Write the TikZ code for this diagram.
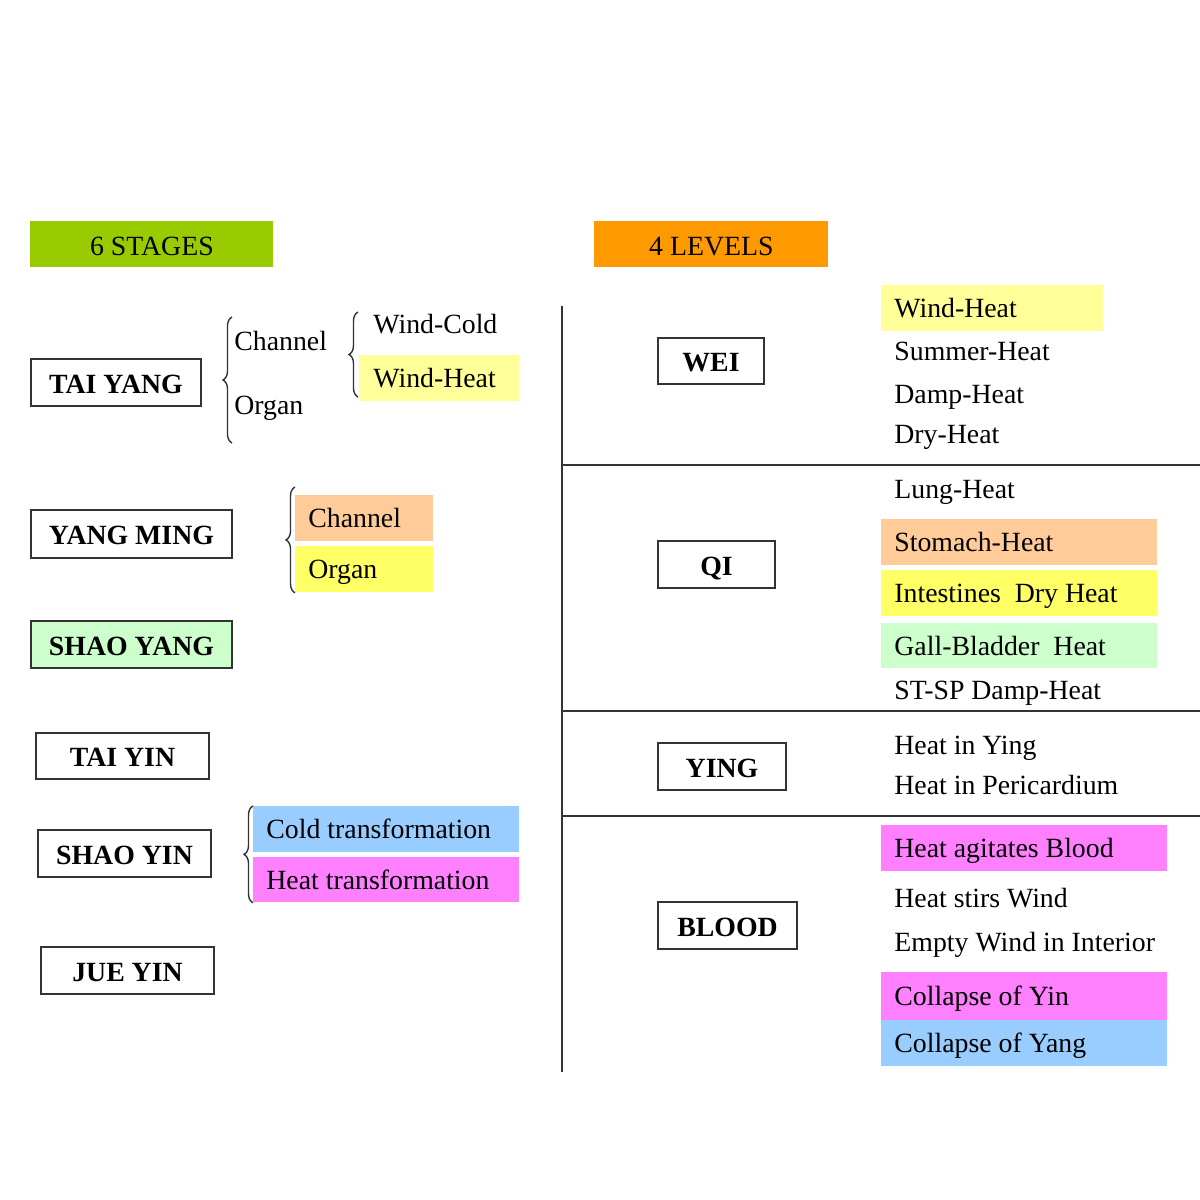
\documentclass[tikz,border=0pt]{standalone}
\usepackage{fontspec}
\setmainfont{Liberation Serif}
\usetikzlibrary{decorations.pathreplacing}
\definecolor{cgreen}{HTML}{99CC00}
\definecolor{corange}{HTML}{FF9900}
\definecolor{cpeach}{HTML}{FFCC99}
\definecolor{cyel}{HTML}{FFFF66}
\definecolor{cpyel}{HTML}{FFFF99}
\definecolor{cmint}{HTML}{CCFFCC}
\definecolor{cblue}{HTML}{99CCFF}
\definecolor{cpink}{HTML}{FF80FF}
\definecolor{cline}{HTML}{333333}
\newcommand\fsz{\fontsize{13.9pt}{16pt}\selectfont}
\begin{document}
\begin{tikzpicture}[x=0.5pt,y=-0.5pt,
  stagebox/.style={draw=cline,line width=1pt,anchor=north west,inner sep=0pt,
    font=\fsz\bfseries,text height=10.8pt,text depth=0pt,minimum height=23.5pt},
  head/.style={anchor=north west,inner sep=0pt,font=\fsz,text height=10.8pt,
    text depth=0pt,minimum height=23pt},
  band/.style={anchor=north west,inner sep=0pt,minimum height=23pt},
  lbl/.style={anchor=west,inner sep=0pt,font=\fsz,text height=0.66em,text depth=0pt,yshift=-1.4pt},
  sep/.style={draw=cline,line width=1pt},
  brc/.style={draw=cline,line width=0.7pt,decorate,decoration={brace,amplitude=4.5pt}}]
\useasboundingbox (0,0) rectangle (1200,1200);
% headers
\node[head,fill=cgreen,minimum width=121.5pt] (stages) at (30,221) {6 STAGES};
\node[head,fill=corange,minimum width=117pt] (levels) at (594,221) {4 LEVELS};
% left stage boxes
\node[stagebox,minimum width=85pt] (taiyang) at (30,358) {TAI YANG};
\node[stagebox,minimum width=100.5pt,minimum height=24pt] (yangming) at (30,509) {YANG MING};
\node[stagebox,fill=cmint,minimum width=100.5pt] (shaoyang) at (30,620) {SHAO YANG};
\node[stagebox,minimum width=86.5pt,minimum height=23pt] (taiyin) at (35,732) {TAI YIN};
\node[stagebox,minimum width=86.5pt] (shaoyin) at (37,829) {SHAO YIN};
\node[stagebox,minimum width=86.5pt] (jueyin) at (40,946) {JUE YIN};
% left fill bands
\node[band,fill=cpyel,minimum width=80pt] (lwh) at (359,355) {};
\node[band,fill=cpeach,minimum width=69pt] (ymch) at (295,495) {};
\node[band,fill=cyel,minimum width=69pt] (ymorg) at (295,546) {};
\node[band,fill=cblue,minimum width=133pt] (coldt) at (253,806) {};
\node[band,fill=cpink,minimum width=133pt,minimum height=22.5pt] (heatt) at (253,857) {};
% left texts
\node[lbl] (tych) at (234,341) {Channel};
\node[lbl] (tyorg) at (234,405) {Organ};
\node[lbl] (wcold) at (373,324) {Wind-Cold};
\node[lbl] (wheatl) at ([xshift=7pt]lwh.west) {Wind-Heat};
\node[lbl] (ymcht) at ([xshift=6.5pt]ymch.west) {Channel};
\node[lbl] (ymorgt) at ([xshift=6.5pt]ymorg.west) {Organ};
\node[lbl] (coldtt) at ([xshift=6.5pt]coldt.west) {Cold transformation};
\node[lbl] (heattt) at ([xshift=6.5pt]heatt.west) {Heat transformation};
% braces
\coordinate (b1s) at (232,443); \coordinate (b1e) at (232,317);
\coordinate (b2s) at (358,397); \coordinate (b2e) at (358,312);
\draw[brc] (b1s) -- (b1e);
\draw[brc] (b2s) -- (b2e);
\draw[brc] (ymorg.south west) -- ([yshift=4pt]ymch.north west);
\draw[brc] (heatt.south west) -- (coldt.north west);
% right structure
\coordinate (vtop) at (562,306); \coordinate (vbot) at (562,1072);
\coordinate (h1a) at (562,465); \coordinate (h1b) at (1200,465);
\coordinate (h2a) at (562,711); \coordinate (h2b) at (1200,711);
\coordinate (h3a) at (562,816); \coordinate (h3b) at (1200,816);
\draw[sep] (vtop) -- (vbot);
\draw[sep] (h1a) -- (h1b);
\draw[sep] (h2a) -- (h2b);
\draw[sep] (h3a) -- (h3b);
% level boxes
\node[stagebox,minimum width=53pt,minimum height=23pt] (wei) at (657,337) {WEI};
\node[stagebox,minimum width=58.5pt] (qi) at (657,540) {QI};
\node[stagebox,minimum width=64pt] (ying) at (657,742) {YING};
\node[stagebox,minimum width=69.5pt] (blood) at (657,901) {BLOOD};
% right bands
\node[band,fill=cpyel,minimum width=111pt] (rwh) at (881,285) {};
\node[band,fill=cpeach,minimum width=138pt] (stom) at (881,519) {};
\node[band,fill=cyel,minimum width=138pt] (intest) at (881,570) {};
\node[band,fill=cmint,minimum width=138pt,minimum height=22.5pt] (gall) at (881,623) {};
\node[band,fill=cpink,minimum width=143pt] (hab) at (881,825) {};
\node[band,fill=cpink,minimum width=143pt,minimum height=24pt] (coyin) at (881,972) {};
\node[band,fill=cblue,minimum width=143pt] (coyang) at (881,1020) {};
% right texts
\node[lbl] (t1) at ([xshift=6.5pt]rwh.west) {Wind-Heat};
\node[lbl] (t2) at (894,351) {Summer-Heat};
\node[lbl] (t3) at (894,394) {Damp-Heat};
\node[lbl] (t4) at (894,434) {Dry-Heat};
\node[lbl] (t5) at (894,489) {Lung-Heat};
\node[lbl] (t6) at ([xshift=6.5pt]stom.west) {Stomach-Heat};
\node[lbl] (t7) at ([xshift=6.5pt]intest.west) {Intestines\enspace Dry Heat};
\node[lbl] (t8) at ([xshift=6.5pt]gall.west) {Gall-Bladder\enspace Heat};
\node[lbl] (t9) at (894,690) {ST-SP Damp-Heat};
\node[lbl] (t10) at (894,745) {Heat in Ying};
\node[lbl] (t11) at (894,785) {Heat in Pericardium};
\node[lbl] (t12) at ([xshift=6.5pt]hab.west) {Heat agitates Blood};
\node[lbl] (t13) at (894,898) {Heat stirs Wind};
\node[lbl] (t14) at (894,942) {Empty Wind in Interior};
\node[lbl] (t15) at ([xshift=6.5pt]coyin.west) {Collapse of Yin};
\node[lbl] (t16) at ([xshift=6.5pt]coyang.west) {Collapse of Yang};
\end{tikzpicture}
\end{document}
